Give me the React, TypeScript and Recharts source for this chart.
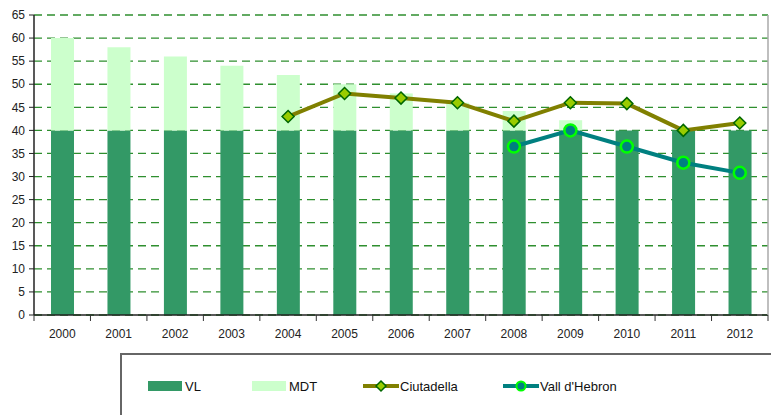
import React from 'react';
import { ComposedChart, Bar, Line, XAxis, YAxis, CartesianGrid, Legend } from 'recharts';

const years = ['2000', '2001', '2002', '2003', '2004', '2005', '2006', '2007', '2008', '2009', '2010', '2011', '2012'];
const vl = [40, 40, 40, 40, 40, 40, 40, 40, 40, 40, 40, 40, 40];
// MDT is stacked on top of VL (total minus 40)
const mdt = [20, 18, 16, 14, 12, 10, 8, 6, 4.2, 2.2, 0, 0, 0];
const ciutadella = [null, null, null, null, 43, 48, 47, 46, 42, 46, 45.8, 40, 41.6];
const vallHebron = [null, null, null, null, null, null, null, null, 36.5, 40, 36.5, 33, 30.8];
const yTicks = [0, 5, 10, 15, 20, 25, 30, 35, 40, 45, 50, 55, 60, 65];

const data = years.map((year, i) => ({
  year,
  VL: vl[i],
  MDT: mdt[i],
  Ciutadella: ciutadella[i],
  "Vall d'Hebron": vallHebron[i],
}));

const W = 771;
const H = 345;
const PLOT_LEFT = 34;
const PLOT_RIGHT = 768;
const PLOT_BOTTOM = 315;
const FONT = '"Liberation Sans", Arial, sans-serif';
const NARROW = '"Liberation Sans Narrow", "Arial Narrow", "Liberation Sans", sans-serif';
const band = (PLOT_RIGHT - PLOT_LEFT) / years.length;

const XTick = (props: any) => {
  const { x, payload, index } = props;
  return (
    <g>
      <line x1={x - band / 2} x2={x - band / 2} y1={PLOT_BOTTOM} y2={PLOT_BOTTOM + 6} stroke="#333" />
      {index === years.length - 1 && (
        <line x1={x + band / 2} x2={x + band / 2} y1={PLOT_BOTTOM} y2={PLOT_BOTTOM + 6} stroke="#333" />
      )}
      <text x={x} y={PLOT_BOTTOM + 23} textAnchor="middle" fontSize={12} fontFamily={FONT} fill="#222">
        {payload.value}
      </text>
    </g>
  );
};

const Diamond = (props: any) => {
  const { cx, cy, value } = props;
  if (cx == null || cy == null || value == null) return <g />;
  return (
    <polygon
      points={`${cx},${cy - 6} ${cx + 6},${cy} ${cx},${cy + 6} ${cx - 6},${cy}`}
      fill="#99cc00"
      stroke="#006600"
      strokeWidth={1.5}
    />
  );
};

const Ring = (props: any) => {
  const { cx, cy, value } = props;
  if (cx == null || cy == null || value == null) return <g />;
  return <circle cx={cx} cy={cy} r={6} fill="#008080" stroke="#00ff00" strokeWidth={2.5} />;
};

const legendItems = [
  { name: 'VL', kind: 'box', color: '#339966', left: 26 },
  { name: 'MDT', kind: 'box', color: '#ccffcc', left: 130 },
  { name: 'Ciutadella', kind: 'diamond', color: '#808000', left: 241 },
  { name: "Vall d'Hebron", kind: 'ring', color: '#008080', left: 381 },
];

const renderLegend = () => (
  <div style={{ position: 'relative', width: '100%', height: '100%' }}>
    {legendItems.map((it) => (
      <div
        key={it.name}
        style={{ position: 'absolute', left: it.left, top: 23, display: 'flex', alignItems: 'center', height: 16 }}
      >
        <svg width={36} height={16}>
          {it.kind === 'box' ? (
            <rect x={0} y={3} width={34} height={10} fill={it.color} />
          ) : (
            <>
              <rect x={0} y={6} width={36} height={4} fill={it.color} />
              {it.kind === 'diamond' ? (
                <polygon points="18,3 23,8 18,13 13,8" fill="#99cc00" stroke="#006600" strokeWidth={1.5} />
              ) : (
                <circle cx={18} cy={8} r={4.5} fill="#008080" stroke="#00ff00" strokeWidth={2} />
              )}
            </>
          )}
        </svg>
        <span style={{ fontFamily: NARROW, fontSize: 13, color: '#111', marginLeft: 1 }}>{it.name}</span>
      </div>
    ))}
  </div>
);

export default function App() {
  return (
    <div style={{ position: 'absolute', left: 0, top: 0, width: W, height: 415, background: '#fff' }}>
      <ComposedChart width={W} height={H} data={data} margin={{ top: 15, right: 0, bottom: 0, left: 0 }}>
        <CartesianGrid vertical={false} stroke="#2f8f2f" strokeDasharray="8 5" strokeWidth={1.3} />
        <XAxis dataKey="year" height={30} tick={<XTick />} tickLine={false} interval={0}
          axisLine={{ stroke: '#222', strokeWidth: 1.5 }} />
        <XAxis xAxisId="top" orientation="top" dataKey="year" height={0} tick={false} tickLine={false}
          axisLine={{ stroke: '#8a8a8a', strokeWidth: 2.5 }} />
        <YAxis width={34} domain={[0, 65]} ticks={yTicks} interval={0} tickSize={5} tickMargin={4}
          tick={{ fontSize: 12, fontFamily: FONT, fill: '#222' }}
          tickLine={{ stroke: '#222' }} axisLine={{ stroke: '#222', strokeWidth: 1.5 }} />
        <YAxis yAxisId="right" orientation="right" width={3} domain={[0, 65]} tick={false} tickLine={false}
          axisLine={{ stroke: '#aaa', strokeWidth: 1.5 }} />
        <Bar dataKey="VL" stackId="a" fill="#339966" barSize={23} isAnimationActive={false} />
        <Bar dataKey="MDT" stackId="a" fill="#ccffcc" barSize={23} isAnimationActive={false} />
        <Line type="linear" dataKey="Ciutadella" stroke="#808000" strokeWidth={4} dot={<Diamond />}
          activeDot={false} isAnimationActive={false} />
        <Line type="linear" dataKey="Vall d'Hebron" stroke="#008080" strokeWidth={4} dot={<Ring />}
          activeDot={false} isAnimationActive={false} />
        <Legend layout="horizontal" verticalAlign="middle" content={renderLegend}
          wrapperStyle={{ position: 'absolute', left: 120, top: 353, width: 660, height: 70,
            borderTop: '2px solid #666', borderLeft: '2px solid #666', boxSizing: 'border-box' }} />
      </ComposedChart>
    </div>
  );
}
